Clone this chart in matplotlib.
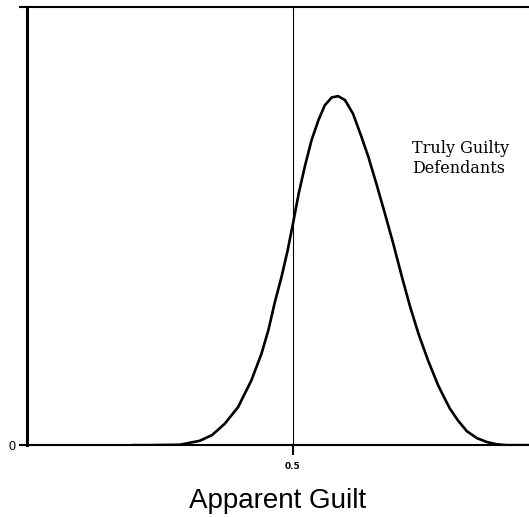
import matplotlib.pyplot as plt

# Points (culpabilité apparente, hauteur relative)
guilt = [0.200, 0.231, 0.288, 0.325, 0.348, 0.372, 0.397, 0.422, 0.441, 0.454,
         0.466, 0.479, 0.490, 0.501, 0.511, 0.523, 0.535, 0.548, 0.560, 0.573,
         0.585, 0.598, 0.613, 0.629, 0.642, 0.657, 0.673, 0.689, 0.704, 0.720,
         0.736, 0.754, 0.773, 0.784, 0.795, 0.810, 0.827, 0.846, 0.865, 0.883,
         0.902, 0.944]
density = [0.0, 0.0, 0.001, 0.010, 0.023, 0.049, 0.087, 0.148, 0.209, 0.263,
           0.326, 0.386, 0.444, 0.511, 0.575, 0.639, 0.696, 0.742, 0.776, 0.794,
           0.797, 0.788, 0.757, 0.704, 0.658, 0.597, 0.529, 0.459, 0.389, 0.318,
           0.255, 0.194, 0.137, 0.110, 0.084, 0.057, 0.032, 0.016, 0.007, 0.002,
           0.0, 0.0]

threshold = 0.5
xticks = [0.5]
xtick_labels = ['0.5']
yticks = [0, 1]
ytick_labels = ['0', '']

fig = plt.figure(figsize=(5.29, 5.17), dpi=100)
ax = fig.add_axes([0.051, 0.139, 0.949, 0.847])

ax.plot(guilt, density, color='black', linewidth=1.9, solid_joinstyle='round')
ax.axvline(threshold, color='black', linewidth=0.8)

ax.text(0.724, 0.696, 'Truly Guilty\nDefendants', family='DejaVu Serif',
        fontsize=11.5, ha='left', va='top', linespacing=1.2)

ax.set_xlim(0, 0.944)
ax.set_ylim(0, 1)

ax.spines['right'].set_visible(False)
ax.spines['left'].set_linewidth(2.2)
ax.spines['top'].set_linewidth(1.5)
ax.spines['bottom'].set_linewidth(1.5)

ax.set_xticks(xticks)
ax.set_xticklabels(xtick_labels, fontsize=6.5, fontweight='bold')
ax.set_yticks(yticks)
ax.set_yticklabels(ytick_labels, fontsize=9, family='Liberation Sans')
ax.tick_params(axis='x', length=7.5, width=1.5, pad=5)
ax.tick_params(axis='y', length=6, width=1.5, pad=2)

ax.set_xlabel('Apparent Guilt', family='Liberation Sans', fontsize=20, labelpad=12)

plt.savefig('out.png', dpi=100)
